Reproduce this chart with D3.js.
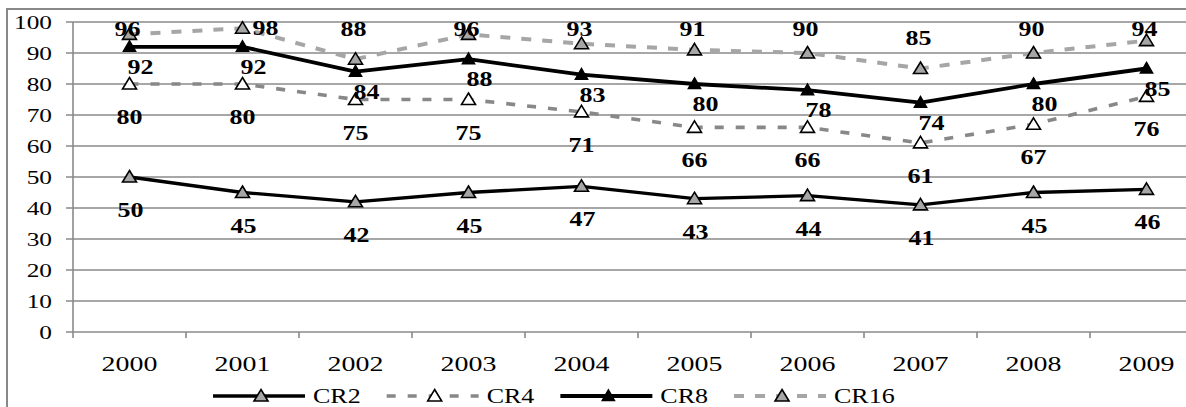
<!DOCTYPE html>
<html><head><meta charset="utf-8">
<script src="https://cdn.jsdelivr.net/npm/d3@7"></script>
<style>html,body{margin:0;padding:0;background:#fff;overflow:hidden}svg{display:block}
text{font-family:"Liberation Serif","Times New Roman",Tinos,"DejaVu Serif",serif;}</style>
</head><body>
<script>
const years = ["2000","2001","2002","2003","2004","2005","2006","2007","2008","2009"];
const cr2  = [50,45,42,45,47,43,44,41,45,46];
const cr4  = [80,80,75,75,71,66,66,61,67,76];
const cr8  = [92,92,84,88,83,80,78,74,80,85];
const cr16 = [96,98,88,96,93,91,90,85,90,94];
const yTicks = [0,10,20,30,40,50,60,70,80,90,100];
const seriesNames = ["CR2","CR4","CR8","CR16"];

const W = 1186, H = 407;
const svg = d3.select("body").append("svg").attr("width", W).attr("height", H);
const SX = 1.3; // horizontal text stretch

// outer frame
svg.append("rect").attr("x",7).attr("y",9).attr("width",1200).attr("height",440)
  .attr("fill","none").attr("stroke","#888").attr("stroke-width",2);

const x = d3.scaleBand().domain(years).range([73, 1203]);
const cx = d => x(d) + x.bandwidth()/2;
const y = d3.scaleLinear().domain([0,100]).range([332, 22]);

const grid = "#8a8a8a";
svg.append("g").selectAll("line").data(yTicks).join("line")
  .attr("x1",66).attr("x2",1203).attr("y1",d=>y(d)).attr("y2",d=>y(d))
  .attr("stroke",grid).attr("stroke-width",1.6);
svg.append("line").attr("x1",73).attr("x2",73).attr("y1",y(100)).attr("y2",y(0))
  .attr("stroke",grid).attr("stroke-width",1.6);
svg.append("g").selectAll("line").data(years.concat(["end"])).join("line")
  .attr("x1",(d,i)=>73+i*x.bandwidth()).attr("x2",(d,i)=>73+i*x.bandwidth())
  .attr("y1",y(0)).attr("y2",y(0)+6).attr("stroke",grid).attr("stroke-width",1.6);

function stretchedText(g, tx, ty, txt, opts){
  return g.append("text")
    .attr("transform",`translate(${tx},${ty}) scale(${opts.sx||SX},1)`)
    .attr("text-anchor",opts.anchor||"middle")
    .attr("font-size",opts.size||20)
    .attr("font-weight",opts.weight||"normal").attr("fill","#000").text(txt);
}
const yl = svg.append("g");
yTicks.forEach(t => stretchedText(yl, 52, y(t)+6.5, t, {anchor:"end", size:19.5}));
const xl = svg.append("g");
years.forEach(yr => stretchedText(xl, cx(yr), 371, yr, {size:21, sx:1.33}));

const tri = "M0,-6.5L7,5L-7,5Z";
const triSmall = "M0,-6L6,4.5L-6,4.5Z";
const series = [
  {name:"CR2", vals:cr2, color:"#000", width:3.3, dash:null, fill:"#a6a6a6", mk:tri},
  {name:"CR4", vals:cr4, color:"#888", width:3.6, dash:"9,12", fill:"#fff", mk:tri},
  {name:"CR8", vals:cr8, color:"#000", width:3.8, dash:null, fill:"#000", mk:triSmall},
  {name:"CR16", vals:cr16, color:"#a6a6a6", width:4, dash:"10,11", fill:"#a6a6a6", mk:tri}
];
const line = d3.line().x((d,i)=>cx(years[i])).y(d=>y(d));

series.forEach(s=>{
  svg.append("path").datum(s.vals).attr("d",line).attr("fill","none")
    .attr("stroke",s.color).attr("stroke-width",s.width)
    .attr("stroke-dasharray",s.dash).attr("stroke-linejoin","round");
});
series.forEach(s=>{
  svg.append("g").selectAll("path").data(s.vals).join("path")
    .attr("d",s.mk).attr("transform",(d,i)=>`translate(${cx(years[i])},${y(d)})`)
    .attr("fill",s.fill).attr("stroke","#000").attr("stroke-width",1.6);
});

const lab = svg.append("g");
function labelPos(name, v, i){
  const px = cx(years[i]), py = y(v);
  if(name==="CR2") return [px+1, py+33];
  if(name==="CR4") return [px, py+33];
  if(name==="CR8") return [px+11, py+20];
  if(v>=98) return [px+23, py];
  return [px-2, Math.max(py-31, 29)];
}
series.forEach(s=>{
  s.vals.forEach((v,i)=>{
    const [lx,ly] = labelPos(s.name, v, i);
    stretchedText(lab, lx, ly+7, v, {size:20, weight:"bold"});
  });
});

const lg = svg.append("g");
let lx0 = 213; const ly = 396;
series.forEach(s=>{
  lg.append("line").attr("x1",lx0).attr("x2",lx0+92).attr("y1",ly).attr("y2",ly)
    .attr("stroke",s.color).attr("stroke-width",s.width).attr("stroke-dasharray",s.dash);
  lg.append("path").attr("d",s.mk).attr("transform",`translate(${lx0+48},${ly})`)
    .attr("fill",s.fill).attr("stroke","#000").attr("stroke-width",1.6);
  const t = stretchedText(lg, lx0+100, ly+7, s.name, {anchor:"start", size:20});
  const w = t.node().getComputedTextLength()*SX;
  lx0 += 100 + w + 26;
});
</script>
</body></html>
